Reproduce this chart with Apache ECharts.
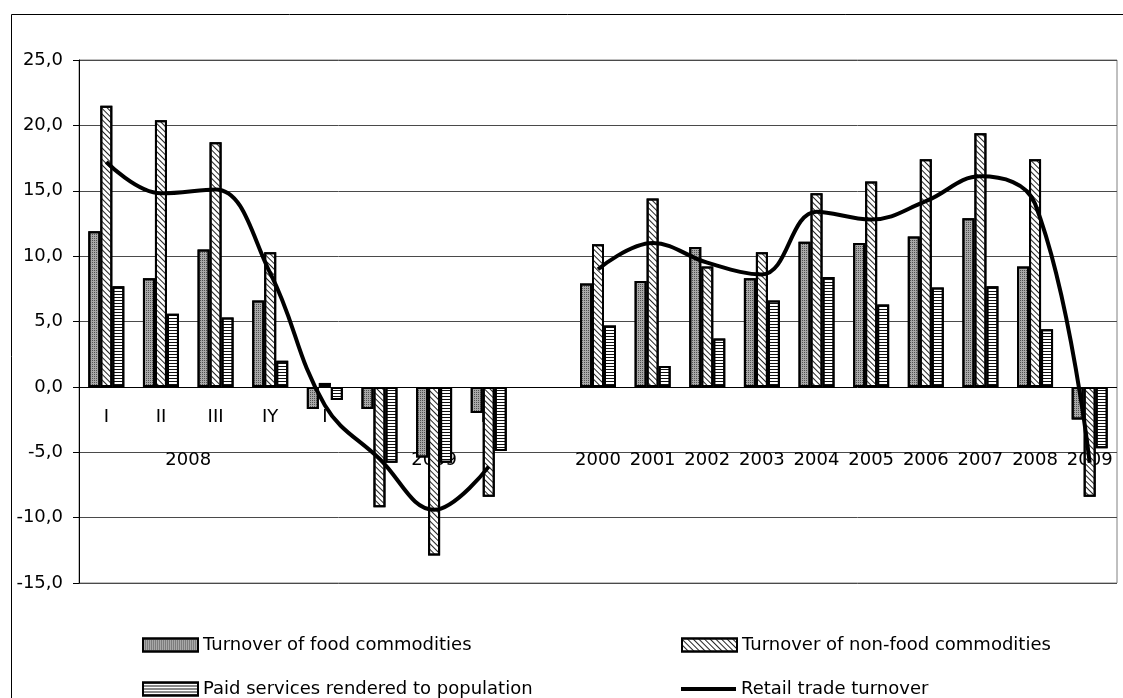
<!DOCTYPE html>
<html>
<head>
<meta charset="utf-8">
<script src="https://cdn.jsdelivr.net/npm/echarts@6/dist/echarts.min.js"></script>
<style>
  html, body { margin: 0; padding: 0; background: #fff; }
  #chart { width: 1123px; height: 698px; }
</style>
</head>
<body>
<div id="chart"></div>
<script>
// First label row: quarters of 2008 and 2009, then an empty slot, then the years
const quarterLabels = ['I', 'II', 'III', 'IY', 'I', 'II', 'III', 'IY', '', '', '', '', '', '', '', '', '', '', ''];
// Second label row: each label spans a number of category slots
const groupLabels = ['2008', '2009', '2000', '2001', '2002', '2003', '2004', '2005', '2006', '2007', '2008', '2009'];
const groupSpans  = [4, 5, 1, 1, 1, 1, 1, 1, 1, 1, 1, 1];

// Growth rates, %
const foodTurnover    = [11.9, 8.3, 10.5, 6.6, -1.7, -1.7, -5.4, -2.0, '-', 7.9, 8.1, 10.7, 8.3, 11.1, 11.0, 11.5, 12.9, 9.2, -2.5];
const nonFoodTurnover = [21.5, 20.4, 18.7, 10.3, 0.3, -9.2, -12.9, -8.4, '-', 10.9, 14.4, 9.2, 10.3, 14.8, 15.7, 17.4, 19.4, 17.4, -8.4];
const paidServices    = [7.7, 5.6, 5.3, 2.0, -1.0, -5.8, -5.8, -4.9, '-', 4.7, 1.6, 3.7, 6.6, 8.4, 6.3, 7.6, 7.7, 4.4, -4.7];
const retailTurnover  = [17.2, 14.8, 15.1, 8.7, -1.4, -5.5, -9.4, -6.1, '-', 9.0, 11.0, 9.5, 8.6, 13.4, 12.8, 14.2, 16.1, 14.0, -5.8];

// Value axis ticks
const yTicks = [-15, -10, -5, 0, 5, 10, 15, 20, 25];

const seriesNames = [
  'Turnover of food commodities',
  'Turnover of non-food commodities',
  'Paid services rendered to population',
  'Retail trade turnover'
];

// Positions (in category units) of the second-row labels: the middle of each span
const groupPositions = {};
let start = 0;
groupLabels.forEach(function (label, i) {
  groupPositions[(start + groupSpans[i] / 2).toFixed(1)] = label;
  start += groupSpans[i];
});
const slotCount = quarterLabels.length;

const FONT = 'DejaVu Sans';
const textStyle = { color: '#000', fontFamily: FONT, fontSize: 18 };

// Split lines are dark grey; the zero line is black
const splitColors = yTicks.map(function (t) { return t === 0 ? '#000' : '#4a4a4a'; });

function legendAt(name, left, top, extra) {
  return Object.assign({
    left: left, top: top, itemWidth: 55, itemHeight: 13, icon: 'rect',
    textStyle: textStyle, data: [name], selectedMode: false
  }, extra || {});
}

const chart = echarts.init(document.getElementById('chart'), null, { renderer: 'canvas' });

chart.setOption({
  animation: false,
  backgroundColor: '#fff',
  textStyle: textStyle,
  graphic: [{
    type: 'rect',
    shape: { x: 11.5, y: 14.5, width: 1130, height: 700 },
    style: { fill: 'none', stroke: '#000', lineWidth: 1 },
    silent: true, z: -10
  }],
  grid: {
    left: 79, right: 6, top: 60, bottom: 115,
    show: true, borderColor: '#808080', borderWidth: 1, backgroundColor: '#fff'
  },
  legend: [
    legendAt(seriesNames[0], 137, 631),
    legendAt(seriesNames[2], 137, 675),
    legendAt(seriesNames[1], 676, 631),
    legendAt(seriesNames[3], 676, 675, { itemHeight: 4, itemStyle: { color: '#000', borderWidth: 0 } })
  ],
  xAxis: [{
    type: 'category',
    data: quarterLabels,
    boundaryGap: true,
    axisLine: { show: false, onZero: false },
    axisTick: { show: false },
    axisLabel: { interval: 0, margin: -175, color: '#000', fontFamily: FONT, fontSize: 18 },
    splitLine: { show: false }
  }, {
    type: 'value',
    min: 0, max: slotCount, interval: 0.5,
    position: 'bottom',
    axisLine: { show: false, onZero: false },
    axisTick: { show: false },
    splitLine: { show: false },
    axisLabel: {
      margin: -132, color: '#000', fontFamily: FONT, fontSize: 18,
      showMinLabel: true, showMaxLabel: true,
      formatter: function (v) { return groupPositions[v.toFixed(1)] || ''; }
    }
  }],
  yAxis: {
    type: 'value',
    min: yTicks[0], max: yTicks[yTicks.length - 1], interval: 5,
    axisLine: { show: true, onZero: false, lineStyle: { color: '#000', width: 1 } },
    axisTick: { show: true, length: 6, lineStyle: { color: '#000' } },
    axisLabel: {
      margin: 16, color: '#000', fontFamily: FONT, fontSize: 18,
      formatter: function (v) { return v.toFixed(1).replace('.', ','); }
    },
    splitLine: { show: true, lineStyle: { color: splitColors, width: 1 } }
  },
  series: [{
    name: seriesNames[0],
    type: 'bar',
    data: foodTurnover,
    barWidth: 12, barGap: '0%',
    itemStyle: {
      color: '#a8a8a8', borderColor: '#000', borderWidth: 2,
      decal: { symbol: 'rect', symbolSize: 1, color: '#505050', dashArrayX: [1, 1], dashArrayY: [1, 1] }
    }
  }, {
    name: seriesNames[1],
    type: 'bar',
    data: nonFoodTurnover,
    barWidth: 12, barGap: '0%',
    itemStyle: {
      color: '#fff', borderColor: '#000', borderWidth: 2,
      // back-slash hatching
      decal: { symbol: 'rect', symbolSize: 1, color: '#222', dashArrayX: [1, 0], dashArrayY: [1, 2.5], rotation: Math.PI / 4 }
    }
  }, {
    name: seriesNames[2],
    type: 'bar',
    data: paidServices,
    barWidth: 12, barGap: '0%',
    itemStyle: {
      color: '#fff', borderColor: '#000', borderWidth: 2,
      decal: { symbol: 'rect', symbolSize: 1, color: '#111', dashArrayX: [1, 0], dashArrayY: [1, 2] }
    }
  }, {
    name: seriesNames[3],
    type: 'line',
    data: retailTurnover,
    smooth: 0.4,
    connectNulls: false,
    symbol: 'none',
    z: 5,
    lineStyle: { color: '#000', width: 4 },
    itemStyle: { color: '#000' }
  }]
});
</script>
</body>
</html>
